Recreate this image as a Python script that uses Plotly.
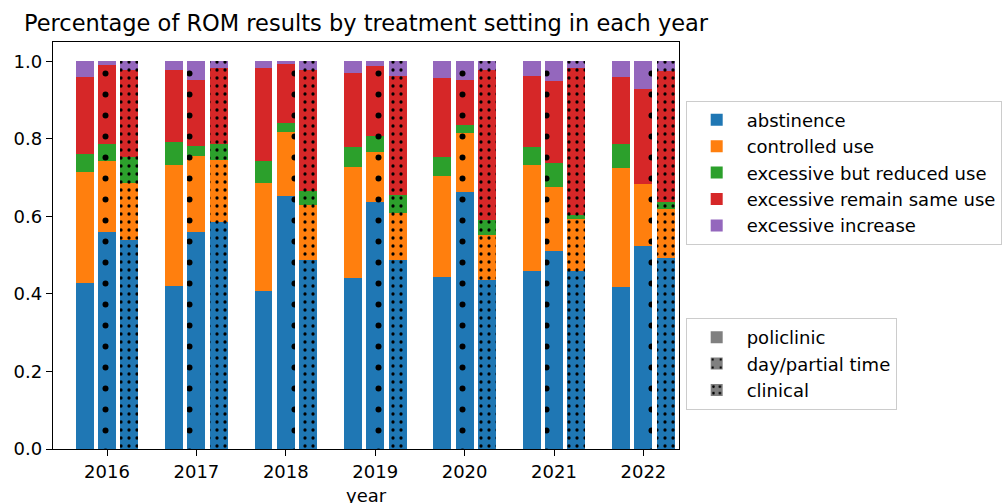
import plotly.graph_objects as go

# ROM outcome shares per treatment setting and year
years = [2016, 2017, 2018, 2019, 2020, 2021, 2022]
categories = ["abstinence", "controlled use", "excessive but reduced use",
              "excessive remain same use", "excessive increase"]
settings = ["policlinic", "day/partial time", "clinical"]

policlinic_abstinence = [0.428, 0.421, 0.407, 0.442, 0.443, 0.459, 0.418]
policlinic_controlled = [0.287, 0.311, 0.280, 0.285, 0.261, 0.273, 0.308]
policlinic_reduced = [0.046, 0.060, 0.057, 0.053, 0.050, 0.046, 0.062]
policlinic_same = [0.198, 0.187, 0.238, 0.191, 0.203, 0.185, 0.173]
policlinic_increase = [0.041, 0.021, 0.018, 0.029, 0.043, 0.037, 0.039]

day_abstinence = [0.560, 0.561, 0.652, 0.637, 0.663, 0.512, 0.525]
day_controlled = [0.183, 0.195, 0.166, 0.130, 0.151, 0.163, 0.159]
day_reduced = [0.045, 0.025, 0.023, 0.040, 0.023, 0.062, 0.000]
day_same = [0.202, 0.171, 0.152, 0.180, 0.116, 0.213, 0.246]
day_increase = [0.010, 0.048, 0.007, 0.013, 0.047, 0.050, 0.070]

clinical_abstinence = [0.539, 0.586, 0.487, 0.487, 0.437, 0.458, 0.492]
clinical_controlled = [0.147, 0.159, 0.142, 0.123, 0.115, 0.135, 0.126]
clinical_reduced = [0.067, 0.043, 0.036, 0.046, 0.038, 0.010, 0.019]
clinical_same = [0.226, 0.196, 0.312, 0.306, 0.389, 0.380, 0.338]
clinical_increase = [0.021, 0.016, 0.023, 0.038, 0.021, 0.017, 0.025]

series = {
    "policlinic": [policlinic_abstinence, policlinic_controlled, policlinic_reduced,
                   policlinic_same, policlinic_increase],
    "day/partial time": [day_abstinence, day_controlled, day_reduced,
                         day_same, day_increase],
    "clinical": [clinical_abstinence, clinical_controlled, clinical_reduced,
                 clinical_same, clinical_increase],
}

colors = ["#1f77b4", "#ff7f0e", "#2ca02c", "#d62728", "#9467bd"]
offsets = {"policlinic": -0.25, "day/partial time": 0.0, "clinical": 0.25}


def hatch(setting, col):
    """Dot hatch for a treatment setting, drawn over the bar colour."""
    if setting == "day/partial time":
        return dict(shape=".", size=21, solidity=0.064, fgcolor="black",
                    bgcolor=col, fillmode="replace")
    if setting == "clinical":
        return dict(shape=".", size=8, solidity=0.13, fgcolor="black",
                    bgcolor=col, fillmode="replace")
    return dict(shape="")


FONT = "DejaVu Sans"
fig = go.Figure()

for setting in settings:
    xs = [y + offsets[setting] for y in years]
    for cat, col, vals in zip(categories, colors, series[setting]):
        fig.add_trace(go.Bar(
            x=xs, y=vals, width=0.2, name=cat,
            marker=dict(color=col, line=dict(width=0), pattern=hatch(setting, col)),
            legend="legend", showlegend=(setting == "policlinic"),
            legendgroup=cat,
        ))

# setting key (hatch only)
for setting in settings:
    fig.add_trace(go.Bar(
        x=[None], y=[None], name=setting,
        marker=dict(color="gray", line=dict(width=0), pattern=hatch(setting, "gray")),
        legend="legend2", showlegend=True,
    ))

axis_common = dict(showline=True, linecolor="black", linewidth=1.3, mirror=True,
                   ticks="outside", ticklen=6, tickwidth=1.3, tickcolor="black",
                   showgrid=False, zeroline=False,
                   tickfont=dict(family=FONT, size=18, color="black"))

fig.update_layout(
    width=1006, height=503,
    barmode="stack",
    plot_bgcolor="white", paper_bgcolor="white",
    margin=dict(l=53, r=327, t=42, b=54, autoexpand=False),
    font=dict(family=FONT, size=18, color="black"),
    title=dict(text="Percentage of ROM results by treatment setting in each year",
               x=0.5, xref="paper", y=0.954, yref="container", yanchor="middle",
               font=dict(family=FONT, size=22.5, color="black")),
    xaxis=dict(range=[2015.396, 2022.398], tickvals=years,
               ticktext=[str(y) for y in years], **axis_common),
    yaxis=dict(range=[0, 1.05], tickvals=[0, 0.2, 0.4, 0.6, 0.8, 1.0],
               tickformat=".1f", **axis_common),
    legend=dict(x=1.0107, y=0.856, xanchor="left", yanchor="top",
                bordercolor="#cccccc", borderwidth=1, bgcolor="white",
                font=dict(family=FONT, size=18, color="black"),
                itemwidth=50, tracegroupgap=0, traceorder="normal"),
    legend2=dict(x=1.0107, y=0.322, xanchor="left", yanchor="top",
                 bordercolor="#cccccc", borderwidth=1, bgcolor="white",
                 font=dict(family=FONT, size=18, color="black"),
                 itemwidth=50, traceorder="normal"),
    annotations=[dict(text="year", x=0.5, xref="paper", y=-0.083, yref="paper",
                      yanchor="top", showarrow=False,
                      font=dict(family=FONT, size=18, color="black"))],
)

fig.write_html("out.html")
